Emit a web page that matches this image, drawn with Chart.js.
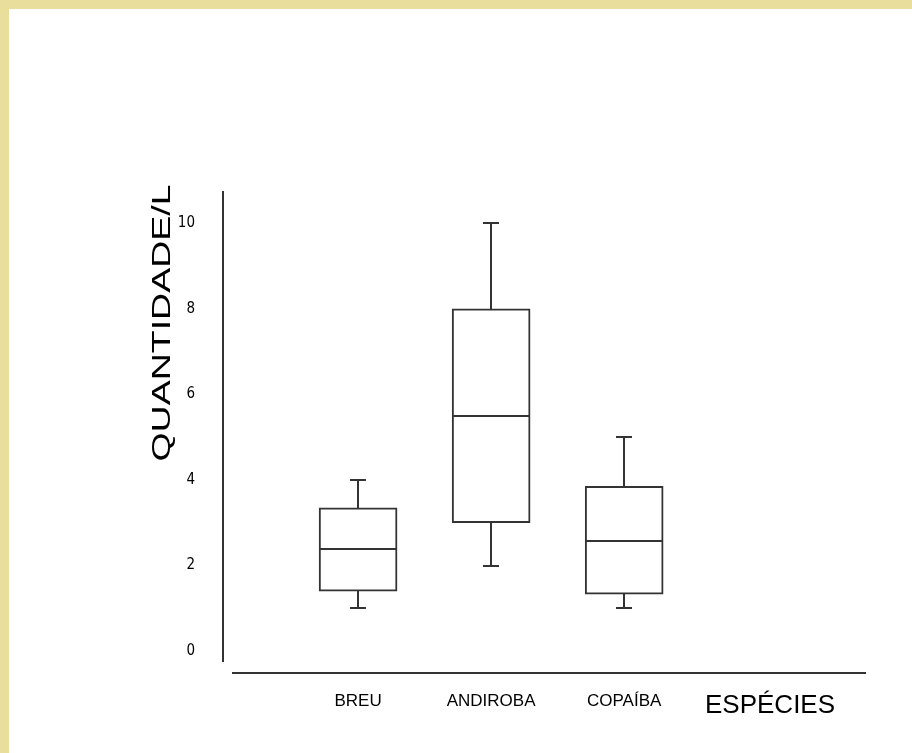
<!DOCTYPE html>
<html lang="pt">
<head>
<meta charset="utf-8">
<title>Quantidade por espécie</title>
<script src="https://cdn.jsdelivr.net/npm/chart.js@4.4.0/dist/chart.umd.min.js"></script>
<style>
  html, body { margin: 0; padding: 0; }
  body { width: 912px; height: 753px; background: #e9de9b; overflow: hidden; position: relative; }
  #wrap { position: absolute; left: 9px; top: 9px; width: 903px; height: 744px; background: #fff; }
  canvas { display: block; }
</style>
</head>
<body>
<div id="wrap"><canvas id="chart" width="903" height="744"></canvas></div>
<script>
// valores (quantidade por litro)
const species = ['BREU', 'ANDIROBA', 'COPAÍBA'];
const minimos = [1, 2, 1];
const quartil1 = [1.4, 3, 1.33];
const medianas = [2.38, 5.5, 2.57];
const quartil3 = [3.35, 8, 3.85];
const maximos = [4, 10, 5];
const yTicks = [0, 2, 4, 6, 8, 10];

const lineColor = '#333';

function el(id) { return document.getElementById(id); }

// median, whiskers, the detached y axis line and the axis titles
const boxExtras = {
  id: 'boxExtras',
  afterDatasetsDraw(chart) {
    const { ctx, chartArea, scales: { x, y } } = chart;
    const meta = chart.getDatasetMeta(0);
    ctx.save();
    ctx.strokeStyle = lineColor;
    ctx.lineWidth = 2;
    const line = (x1, y1, x2, y2) => {
      ctx.beginPath(); ctx.moveTo(x1, y1); ctx.lineTo(x2, y2); ctx.stroke();
    };
    species.forEach((s, i) => {
      const bar = meta.data[i];
      const cx = Math.round(x.getPixelForValue(i + 1));
      const half = bar.width / 2;
      const yMed = Math.round(y.getPixelForValue(medianas[i]));
      line(cx - half + 1, yMed, cx + half - 1, yMed);
      const yMax = Math.round(y.getPixelForValue(maximos[i]));
      const yQ3 = Math.round(y.getPixelForValue(quartil3[i]));
      line(cx, yQ3, cx, yMax); line(cx - 8, yMax, cx + 8, yMax);
      const yMin = Math.round(y.getPixelForValue(minimos[i]));
      const yQ1 = Math.round(y.getPixelForValue(quartil1[i]));
      line(cx, yQ1, cx, yMin); line(cx - 8, yMin, cx + 8, yMin);
    });
    // y axis line, kept apart from the x axis as in the original
    line(chartArea.left - 10, chartArea.top, chartArea.left - 10, chartArea.bottom - 11);

    ctx.fillStyle = '#000';
    ctx.font = '26px "Liberation Sans", Arial, sans-serif';
    ctx.textAlign = 'left';
    ctx.textBaseline = 'middle';
    ctx.fillText('ESPÉCIES', chartArea.right - 160, chartArea.bottom + 33);

    // y title, drawn stretched along its length like the original
    ctx.translate(chartArea.left - 70, chartArea.top + 132);
    ctx.rotate(-Math.PI / 2);
    ctx.scale(1.5, 1);
    ctx.textAlign = 'center';
    ctx.font = '25px "Liberation Sans", Arial, sans-serif';
    ctx.fillText('QUANTIDADE/L', 0, 0);
    ctx.restore();
  }
};

new Chart(el('chart'), {
  type: 'bar',
  data: {
    datasets: [{
      label: 'Caixa',
      data: species.map((s, i) => ({ x: i + 1, y: [quartil1[i], quartil3[i]] })),
      backgroundColor: '#fff',
      borderColor: lineColor,
      borderWidth: 2,
      borderSkipped: false,
      barThickness: 78
    }]
  },
  options: {
    responsive: false,
    animation: false,
    devicePixelRatio: 1,
    layout: { padding: { top: 182, left: 144, right: 47, bottom: 40 } },
    plugins: { legend: { display: false }, tooltip: { enabled: false } },
    scales: {
      x: {
        type: 'linear',
        min: 0.06,
        max: 4.81,
        offset: false,
        grid: { display: false, offset: false },
        border: { display: true, color: lineColor, width: 2 },
        afterFit: s => { s.height = 40; },
        afterBuildTicks: s => { s.ticks = species.map((n, i) => ({ value: i + 1 })); },
        ticks: {
          padding: 10,
          color: '#000',
          maxRotation: 0,
          autoSkip: false,
          font: { family: '"Liberation Sans", Arial, sans-serif', size: 17 },
          callback: v => species[v - 1] || ''
        }
      },
      y: {
        min: -0.51,
        max: 10.75,
        grid: { display: false },
        border: { display: false },
        afterFit: s => { s.width = 80; },
        afterBuildTicks: s => { s.ticks = yTicks.map(v => ({ value: v })); },
        ticks: {
          padding: 30,
          color: '#000',
          font: { family: '"Liberation Sans Narrow", "DejaVu Sans Condensed", Arial, sans-serif', size: 15 }
        }
      }
    }
  },
  plugins: [boxExtras]
});
</script>
</body>
</html>
